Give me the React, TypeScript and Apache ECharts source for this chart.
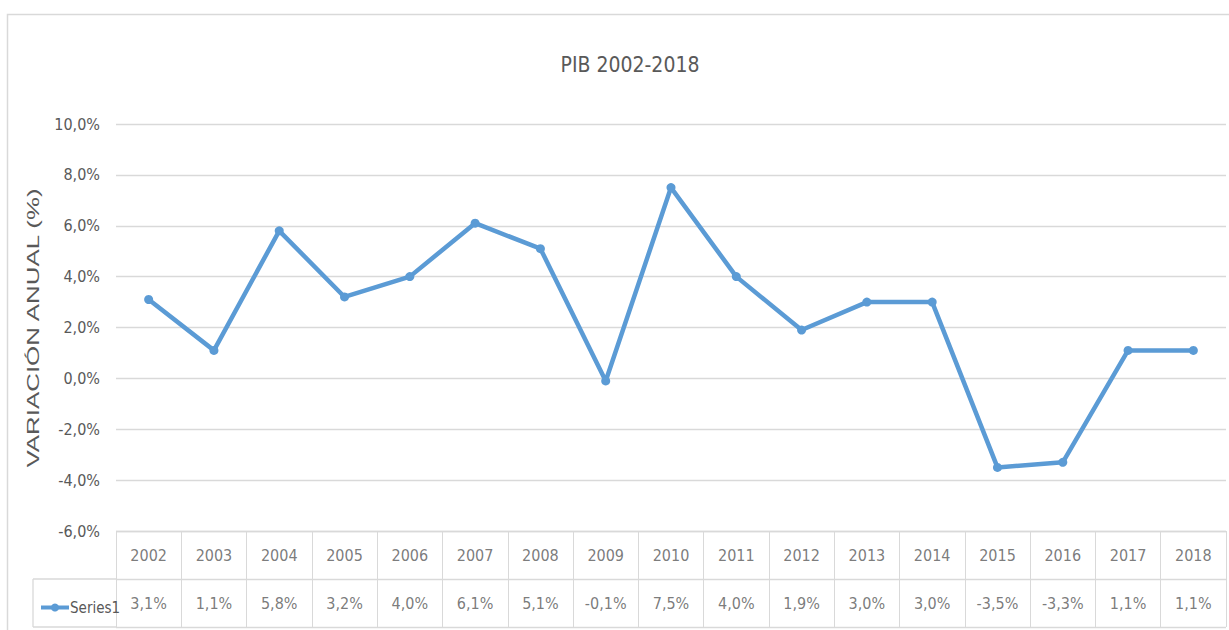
import React, { useEffect, useRef } from "react";
import * as echarts from "echarts";

const years = ["2002","2003","2004","2005","2006","2007","2008","2009","2010","2011","2012","2013","2014","2015","2016","2017","2018"];
const values = [3.1, 1.1, 5.8, 3.2, 4.0, 6.1, 5.1, -0.1, 7.5, 4.0, 1.9, 3.0, 3.0, -3.5, -3.3, 1.1, 1.1];
const yTicks = { min: -6, max: 10, interval: 2 };
const title = "PIB 2002-2018";
const yTitle = "VARIACIÓN ANUAL (%)";
const seriesName = "Series1";

const FONT = "'Liberation Sans Narrow', 'DejaVu Sans Condensed', 'Roboto Condensed', sans-serif";
const TXT = "#595959";
const GRID = "#d9d9d9";
const BLUE = "#5B9BD5";

const fmt = (v: number) => v.toFixed(1).replace(".", ",") + "%";

export default function App() {
  const ref = useRef<HTMLDivElement>(null);
  useEffect(() => {
    if (!ref.current) return;
    const chart = echarts.init(ref.current, undefined, { renderer: "svg" });
    chart.setOption({
      animation: false,
      backgroundColor: "#fff",
      title: {
        text: title,
        left: 625,
        textAlign: "center",
        top: 49,
        textStyle: { fontFamily: FONT, fontSize: 21, fontWeight: "normal", color: TXT },
      },
      legend: {
        data: [seriesName],
        left: 34,
        top: 595,
        itemWidth: 28,
        itemHeight: 10,
        itemGap: 2,
        lineStyle: { width: 4 },
        textStyle: { fontFamily: FONT, fontSize: 15, color: TXT, padding: [0, 0, 0, -4] },
      },
      grid: [
        { left: 116, right: 3, top: 124, height: 407 },
        { left: 116, right: 3, top: 531, height: 96 },
      ],
      xAxis: [
        {
          type: "category", gridIndex: 0, data: years, boundaryGap: true,
          axisLine: { show: false }, axisTick: { show: false }, axisLabel: { show: false }, splitLine: { show: false },
        },
        {
          type: "category", gridIndex: 1, data: years, boundaryGap: true,
          axisLine: { show: false }, axisTick: { show: false }, axisLabel: { show: false },
          splitLine: { show: true, lineStyle: { color: GRID, width: 1 } },
        },
      ],
      yAxis: [
        {
          type: "value", gridIndex: 0, min: yTicks.min, max: yTicks.max, interval: yTicks.interval,
          axisLine: { show: false }, axisTick: { show: false },
          axisLabel: { formatter: (v: number) => fmt(v), fontFamily: FONT, fontSize: 16, color: TXT, margin: 16 },
          splitLine: { lineStyle: { color: GRID, width: 1.3 } },
        },
        {
          type: "value", gridIndex: 1, min: 0, max: 2, interval: 1,
          axisLine: { show: false }, axisTick: { show: false }, axisLabel: { show: false },
          splitLine: { show: true, lineStyle: { color: GRID, width: 1.3 } },
        },
      ],
      series: [
        {
          name: seriesName,
          type: "line",
          xAxisIndex: 0, yAxisIndex: 0,
          data: values,
          symbol: "circle",
          symbolSize: 9,
          color: BLUE,
          lineStyle: { color: BLUE, width: 4.5 },
          itemStyle: { color: BLUE },
        },
        {
          name: "years",
          type: "scatter",
          xAxisIndex: 1, yAxisIndex: 1,
          symbolSize: 0,
          silent: true,
          data: years.map((y) => [y, 1.5]),
          label: {
            show: true, position: "inside", formatter: (p: any) => p.value[0],
            fontFamily: FONT, fontSize: 16, color: TXT,
          },
        },
        {
          name: "vals",
          type: "scatter",
          xAxisIndex: 1, yAxisIndex: 1,
          symbolSize: 0,
          silent: true,
          data: values.map((v, i) => [years[i], 0.5, v]),
          label: {
            show: true, position: "inside", formatter: (p: any) => fmt(p.value[2]),
            fontFamily: FONT, fontSize: 16, color: TXT,
          },
        },
      ],
      graphic: [
        { type: "rect", shape: { x: 7.5, y: 14.5, width: 1240, height: 640 }, style: { fill: "none", stroke: GRID, lineWidth: 1.5 }, silent: true, z: -1 },
        { type: "line", shape: { x1: 33, y1: 579, x2: 116, y2: 579 }, style: { stroke: GRID, lineWidth: 1.3 } },
        { type: "line", shape: { x1: 33, y1: 627, x2: 116, y2: 627 }, style: { stroke: GRID, lineWidth: 1.3 } },
        { type: "line", shape: { x1: 33, y1: 579, x2: 33, y2: 627 }, style: { stroke: GRID, lineWidth: 1.3 } },
        {
          type: "text", x: 34, y: 328, rotation: Math.PI / 2, scaleX: 1.62,
          style: { text: yTitle, fontFamily: "'Liberation Sans', Arial, sans-serif", fontSize: 16, fill: TXT, align: "center", verticalAlign: "middle" },
        },
      ],
    });
    return () => chart.dispose();
  }, []);
  return <div ref={ref} style={{ width: 1229, height: 630, position: "absolute", left: 0, top: 0 }} />;
}
